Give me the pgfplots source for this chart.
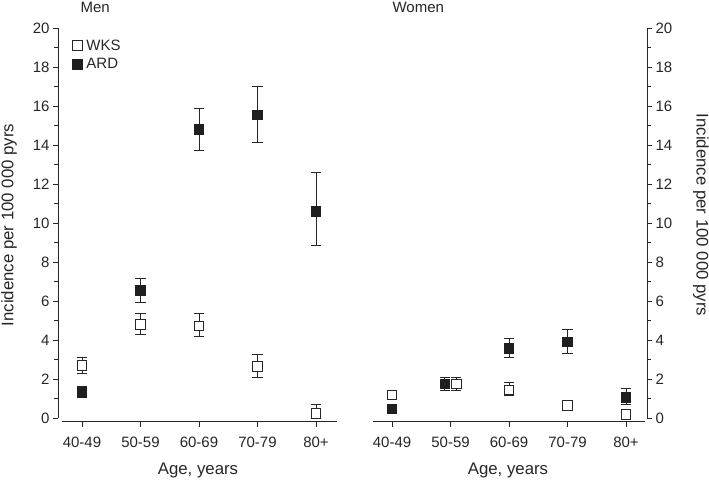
\documentclass[border=0pt]{standalone}
\usepackage{fontspec}
\setmainfont{Liberation Sans}
\usepackage{pgfplots}
\pgfplotsset{compat=1.18}
\definecolor{ink}{gray}{0.15}
\begin{document}
\begin{tikzpicture}[x=1pt,y=1pt]
\useasboundingbox (0,0) rectangle (709,480);
\pgfplotsset{
 panel/.style={
  scale only axis, height=393.7pt, ymin=-0.19, ymax=20,
  axis x line*=bottom,
  xtick={0,...,4}, xticklabels={40-49,50-59,60-69,70-79,80+},
  ytick={0,2,...,20}, minor y tick num=1,
  tick align=outside, major tick length=5pt, minor tick length=4pt,
  tick style={ink, line width=0.8pt},
  x tick label style={font=\fontsize{15}{18}\selectfont, text=ink, yshift=-7pt},
  y tick label style={font=\fontsize{15}{18}\selectfont, text=ink},
  /pgf/number format/assume math mode=true,
  clip=false,
 },
 pt/.style={only marks, mark size=4.8pt,
  error bars/y dir=both, error bars/y explicit,
  error bars/error bar style={line width=0.8pt, ink},
  error bars/error mark options={rotate=90, mark size=5.3pt, line width=0.8pt, ink}},
 wks/.style={pt, mark=square*, mark options={fill=white, draw=ink, line width=0.9pt}},
 ard/.style={pt, mark=square*, mark options={fill=black!88, draw=black!88, line width=0.9pt}},
}
\begin{axis}[panel, at={(58pt,58.3pt)}, anchor=south west, width=279pt,
  xmin=-0.41, xmax=4.359, axis y line*=left,
  x axis line style={ink, line width=0.9pt, shorten <=4pt},
  y axis line style={ink, line width=0.9pt, shorten <=3.7pt},
  legend style={draw=none, fill=none, at={(rel axis cs:0.04,0.98)}, anchor=north west,
    font=\fontsize{15}{18}\selectfont, text=ink, row sep=4pt, column sep=3pt,
    nodes={inner sep=1.5pt}},
  legend cell align=left]
\addplot+[wks] coordinates {
 (0,2.68) += (0,0.43) -= (0,0.37)
 (1,4.80) += (0,0.57) -= (0,0.53)
 (2,4.73) += (0,0.64) -= (0,0.56)
 (3,2.65) += (0,0.63) -= (0,0.55)
 (4,0.24) += (0,0.44) -= (0,0.24)
};
\addlegendentry{WKS}
\addplot+[ard] coordinates {
 (0,1.32) += (0,0.30) -= (0,0.25)
 (1,6.55) += (0,0.60) -= (0,0.62)
 (2,14.79) += (0,1.09) -= (0,1.05)
 (3,15.54) += (0,1.47) -= (0,1.39)
 (4,10.58) += (0,2.00) -= (0,1.72)
};
\addlegendentry{ARD}
\end{axis}
\begin{axis}[panel, at={(373pt,58.3pt)}, anchor=south west, width=274pt,
  xmin=-0.325, xmax=4.359, axis y line*=right,
  x axis line style={ink, line width=0.9pt, shorten >=2pt},
  y axis line style={ink, line width=0.9pt, shorten <=3.7pt}]
\addplot+[ard] coordinates {
 (0,0.46) += (0,0.10) -= (0,0.10)
 (0.903,1.74) += (0,0.36) -= (0,0.30)
 (2,3.57) += (0,0.53) -= (0,0.48)
 (3,3.90) += (0,0.66) -= (0,0.57)
 (4,1.04) += (0,0.46) -= (0,0.34)
};
\addplot+[wks] coordinates {
 (0,1.18) += (0,0.15) -= (0,0.15)
 (1.097,1.74) += (0,0.36) -= (0,0.30)
 (2,1.44) += (0,0.37) -= (0,0.28)
 (3,0.65) += (0,0.12) -= (0,0.10)
 (4,0.19) += (0,0.10) -= (0,0.10)
};
\end{axis}
\node[anchor=west, text=ink, font=\fontsize{15}{18}\selectfont] at (77,473) {Men};
\node[anchor=west, text=ink, font=\fontsize{15}{18}\selectfont] at (389,473) {Women};
\node[text=ink, font=\fontsize{16.8}{20}\selectfont] at (198,9.3) {Age, years};
\node[text=ink, font=\fontsize{16.8}{20}\selectfont] at (508,9.3) {Age, years};
\node[rotate=90, text=ink, font=\fontsize{16.8}{20}\selectfont] at (9,255) {Incidence per 100 000 pyrs};
\node[rotate=-90, text=ink, font=\fontsize{16.8}{20}\selectfont] at (701,265) {Incidence per 100 000 pyrs};
\end{tikzpicture}
\end{document}
